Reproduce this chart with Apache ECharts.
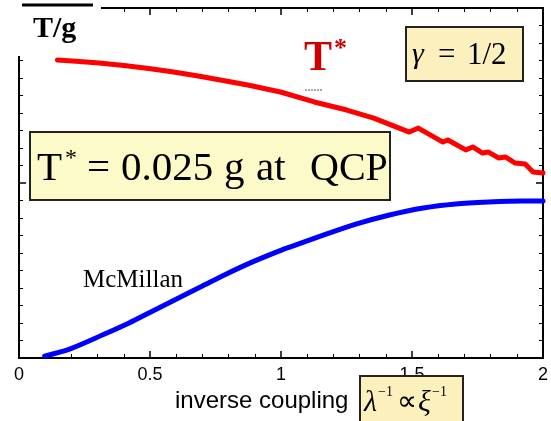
<!DOCTYPE html>
<html>
<head>
<meta charset="utf-8">
<script src="https://cdn.jsdelivr.net/npm/echarts@6/dist/echarts.min.js"></script>
<style>
html,body{margin:0;padding:0;background:#fff;}
#c{width:551px;height:421px;}
</style>
</head>
<body>
<div id="c"></div>
<script>
// ---- data ----
const xTickLabels = ['0', '0.5', '1', '1.5', '2'];
const redX = [0.147, 0.231, 0.306, 0.401, 0.495, 0.590, 0.684, 0.779, 0.873, 0.998, 1.127, 1.251, 1.354, 1.422, 1.490, 1.524, 1.618, 1.637, 1.705, 1.732, 1.769, 1.792, 1.830, 1.856, 1.894, 1.932, 1.962, 2.0];
const redY = [17.03, 16.94, 16.86, 16.71, 16.54, 16.34, 16.11, 15.86, 15.60, 15.20, 14.63, 14.17, 13.71, 13.31, 12.91, 13.14, 12.34, 12.46, 11.89, 12.06, 11.71, 11.77, 11.43, 11.49, 11.14, 11.09, 10.63, 10.57];
const blueX = [0.098, 0.193, 0.318, 0.420, 0.507, 0.609, 0.696, 0.786, 0.885, 0.987, 1.036, 1.164, 1.289, 1.414, 1.543, 1.667, 1.792, 1.921, 2.0];
const blueY = [0.11, 0.51, 1.31, 2.00, 2.66, 3.43, 4.08, 4.76, 5.45, 6.08, 6.35, 7.03, 7.66, 8.17, 8.57, 8.80, 8.91, 8.97, 8.97];

const redData = redX.map((x, i) => [x, redY[i]]);
const blueData = blueX.map((x, i) => [x, blueY[i]]);

const SERIF = '"Liberation Serif", "Times New Roman", serif';
const SANS = '"Liberation Sans", Arial, sans-serif';

function xAxisCfg(pos, showLabel) {
  return {
    type: 'value', position: pos, min: 0, max: 2, interval: 0.5,
    axisLine: { show: true, onZero: false, lineStyle: { color: '#000', width: 2 } },
    axisTick: { show: true, inside: true, length: 7, lineStyle: { color: '#000', width: 1.5 } },
    minorTick: { show: true, splitNumber: 5, length: 4, lineStyle: { color: '#000', width: 1 } },
    splitLine: { show: false },
    axisLabel: {
      show: showLabel, margin: 8, color: '#000', fontSize: 18, fontFamily: SANS,
      alignMinLabel: 'center', alignMaxLabel: 'center',
      formatter: v => xTickLabels[Math.round(v / 0.5)]
    }
  };
}
function yAxisCfg(pos) {
  return {
    type: 'value', position: pos, min: 0, max: 20, interval: 10,
    axisLine: { show: true, onZero: false, lineStyle: { color: '#000', width: 2 } },
    axisTick: { show: true, inside: true, length: 7, lineStyle: { color: '#000', width: 1.5 } },
    minorTick: { show: true, splitNumber: 10, length: 4, lineStyle: { color: '#000', width: 1 } },
    splitLine: { show: false },
    axisLabel: { show: false }
  };
}
function txt(x, y, text, size, extra) {
  return { type: 'text', z: 101, style: Object.assign({ x: x, y: y, text: text, fontFamily: SERIF, fontSize: size, fill: '#000' }, extra || {}) };
}

const chart = echarts.init(document.getElementById('c'));
chart.setOption({
  animation: false,
  backgroundColor: '#fff',
  grid: { left: 19, right: 3, top: 8, bottom: 63 },
  xAxis: [xAxisCfg('bottom', true), xAxisCfg('top', false)],
  yAxis: [yAxisCfg('left'), yAxisCfg('right')],
  series: [
    { type: 'line', data: redData, showSymbol: false, symbol: 'none',
      lineStyle: { color: '#ff0000', width: 5, join: 'round', cap: 'round' }, z: 3 },
    { type: 'line', data: blueData, showSymbol: false, symbol: 'none', smooth: 0.3,
      lineStyle: { color: '#0000ff', width: 5, cap: 'round' }, z: 3 }
  ],
  graphic: [
    { type: 'rect', z: 100, shape: { x: 0, y: 6, width: 101, height: 50 }, style: { fill: '#fff' } },
    { type: 'line', z: 101, shape: { x1: 22, y1: 5, x2: 93, y2: 5 }, style: { stroke: '#000', lineWidth: 3 } },
    txt(33, 14, 'T/g', 30, { fontWeight: 'bold' }),
    // red T*
    txt(304, 38, 'T', 42, { fontWeight: 'bold', fill: '#cc0000' }),
    txt(334, 36, '*', 26, { fontWeight: 'bold', fill: '#cc0000' }),
    { type: 'line', z: 101, shape: { x1: 305, y1: 90, x2: 322, y2: 90 }, style: { stroke: '#555', lineWidth: 1, lineDash: [2, 1] } },
    // gamma box
    { type: 'rect', z: 100, shape: { x: 406, y: 27, width: 117, height: 54 }, style: { fill: '#fcf0bf', stroke: '#222', lineWidth: 2 } },
    txt(412, 40, 'γ', 30, { fontStyle: 'italic' }),
    txt(438, 40, '=', 31),
    txt(467, 40, '1/2', 31),
    // T* box
    { type: 'rect', z: 100, shape: { x: 30, y: 132, width: 360, height: 68 }, style: { fill: '#fcfac8', stroke: '#222', lineWidth: 2 } },
    txt(37, 149, 'T', 41),
    txt(65, 147, '*', 24),
    txt(87, 149, '=', 41),
    txt(121, 149, '0.025', 41),
    txt(224, 149, 'g', 41),
    txt(256, 149, 'at', 41),
    txt(310, 149, 'QCP', 40),
    // McMillan
    txt(83, 268, 'McMillan', 25),
    // axis title
    txt(175, 389, 'inverse coupling', 24, { fontFamily: SANS }),
    { type: 'rect', z: 100, shape: { x: 360, y: 376, width: 103, height: 60 }, style: { fill: '#fcf0bc', stroke: '#222', lineWidth: 2 } },
    txt(364, 388, 'λ', 30, { fontStyle: 'italic' }),
    txt(378, 385, '−1', 14),
    txt(397, 389, '∝', 28),
    txt(418, 388, 'ξ', 30, { fontStyle: 'italic' }),
    txt(432, 385, '−1', 14)
  ]
});
</script>
</body>
</html>
